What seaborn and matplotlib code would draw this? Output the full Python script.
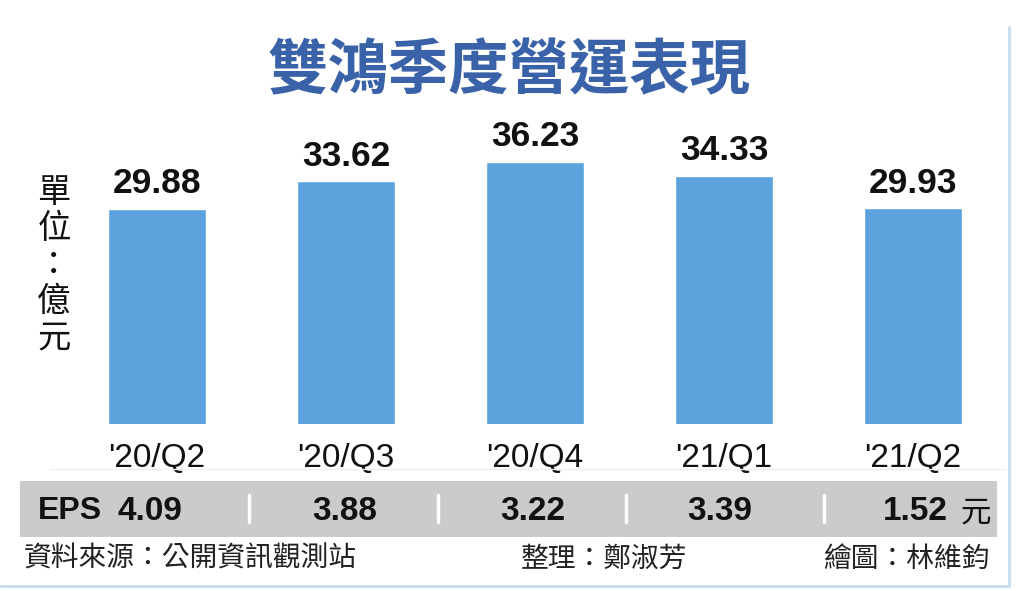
import matplotlib
matplotlib.use('Agg')
import matplotlib.pyplot as plt
from matplotlib.patches import Rectangle
from matplotlib.lines import Line2D
import seaborn as sns
import pandas as pd

# data
quarters = ["'20/Q2", "'20/Q3", "'20/Q4", "'21/Q1", "'21/Q2"]
revenue = [29.88, 33.62, 36.23, 34.33, 29.93]
eps = [4.09, 3.88, 3.22, 3.39, 1.52]
title = "雙鴻季度營運表現"
unit_label = "單位：億元"
source = "資料來源：公開資訊觀測站"
editor = "整理：鄭淑芳"
artist = "繪圖：林維鈞"

BAR = "#5CA3DD"
TITLE_BLUE = "#3A62A8"
BAND = "#CBCBCB"
CJK = ['Noto Sans CJK TC', 'DejaVu Sans']
LAT = ['Liberation Sans', 'DejaVu Sans']

W, H = 1024, 591

sns.set_theme(style="white")
plt.rcParams['font.family'] = CJK


def fx(px):
    return px / W


def fy(py):
    return 1 - py / H


fig = plt.figure(figsize=(W / 100, H / 100), dpi=100)
fig.patch.set_facecolor('white')

# axes placed so bar centres / base line line up with the reference
ax = fig.add_axes([fx(62.5), fy(424), fx(1007.5) - fx(62.5), fy(130) - fy(424)])
df = pd.DataFrame({'quarter': quarters, 'revenue': revenue})
sns.barplot(data=df, x='quarter', y='revenue', color=BAR, width=0.52,
            saturation=1, ax=ax)
ax.set_ylim(0.8, 40.5)
ax.set_xlim(-0.5, len(quarters) - 0.5)
for c in ax.containers:
    ax.bar_label(c, labels=[f"{v:.2f}" for v in revenue], padding=6,
                 fontsize=25.5, fontweight='bold', family=LAT,
                 color='#111111')
ax.set_xlabel('')
ax.set_ylabel('')
ax.set_yticks([])
ax.tick_params(axis='x', length=0, pad=14)
for lbl in ax.get_xticklabels():
    lbl.set_fontsize(24)
    lbl.set_family(LAT)
    lbl.set_color('#111111')
for s in ax.spines.values():
    s.set_visible(False)
ax.set_facecolor('none')

# title and unit label
fig.text(fx(509), fy(72), title, ha='center', va='center', fontsize=43.5,
         fontweight='bold', color=TITLE_BLUE, family=CJK)
fig.text(fx(54), fy(265), '\n'.join(unit_label), ha='center', va='center',
         fontsize=24, color='#111111', family=CJK, linespacing=1.05)

# faint rule under the quarter labels
fig.add_artist(Line2D([fx(50), fx(1005)], [fy(469), fy(469)], color='#EEEEEE', lw=1))

# EPS band
fig.add_artist(Rectangle((fx(20), fy(537)), fx(997) - fx(20), fy(481) - fy(537),
                         facecolor=BAND, edgecolor='none'))
for sx in [249, 438, 626, 824]:
    fig.add_artist(Line2D([fx(sx), fx(sx)], [fy(495), fy(522)], color='white', lw=2.5))
fig.text(fx(70), fy(511), 'EPS', ha='center', va='center', fontsize=23,
         fontweight='bold', family=LAT, color='#111111')
eps_x = [150, 345, 533, 720, 915]
for x, v in zip(eps_x, eps):
    fig.text(fx(x), fy(511), f"{v:.2f}", ha='center', va='center', fontsize=24,
             fontweight='bold', family=LAT, color='#111111')
fig.text(fx(976), fy(513), '元', ha='center', va='center', fontsize=22,
         family=CJK, color='#111111')

# footer
fig.text(fx(24), fy(559), source, ha='left', va='center', fontsize=20,
         family=CJK, color='#222222')
fig.text(fx(604), fy(559), editor, ha='center', va='center', fontsize=20,
         family=CJK, color='#222222')
fig.text(fx(990), fy(559), artist, ha='right', va='center', fontsize=20,
         family=CJK, color='#222222')

# outer frame lines (right and bottom)
fig.add_artist(Line2D([fx(1009), fx(1009)], [fy(27), fy(586)], color='#C9DCEB', lw=2))
fig.add_artist(Line2D([fx(0), fx(1009)], [fy(586), fy(586)], color='#C9DCEB', lw=2))

fig.savefig('out.png', dpi=100, facecolor='white')
plt.close(fig)
